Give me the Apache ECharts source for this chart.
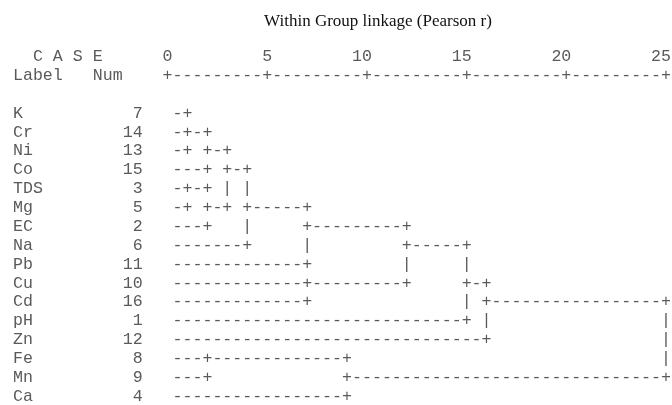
<!DOCTYPE html>
<html><head><meta charset="utf-8">
<script src="https://cdn.jsdelivr.net/npm/echarts@6/dist/echarts.min.js"></script>
<style>html,body{margin:0;padding:0;background:#fff}#c{width:672px;height:405px}</style>
</head><body><div id="c"></div>
<script>
// ---------------- data ----------------
const titleText = 'Within Group linkage (Pearson r)';
const cases    = ['K','Cr','Ni','Co','TDS','Mg','EC','Na','Pb','Cu','Cd','pH','Zn','Fe','Mn','Ca'];
const caseNums = [7,14,13,15,3,5,2,6,11,10,16,1,12,8,9,4];
// agglomeration schedule (rescaled distance 0-25): cluster containing A joins cluster containing B
const mergeA    = ['K','K','TDS','Fe','K','TDS','K','K','Cu','K','Fe','K','K','K','K'];
const mergeB    = ['Cr','Ni','Mg','Mn','Co','EC','TDS','Na','Cd','Pb','Ca','Cu','pH','Zn','Fe'];
const mergeDist = [1,1,1,2,2,2,3,4,7,7,9,12,15,16,25];
const tickValues = [0,5,10,15,20,25];
const headerCase = 'C A S E', headerLabel = 'Label', headerNum = 'Num';

// ---------------- layout / style ----------------
const W = 672, H = 405;
const CW = 9.97;                 // monospace cell width
const COL0 = 177.5;              // centre of first dendrogram column
const ROWH = 18.87;
const ROW0 = 113.3;
const gridLeft = COL0 - CW;      // distance 0
const gridRight = W - (gridLeft + 50 * CW);
const gridTop = ROW0 - ROWH / 2;
const gridH = ROWH * cases.length;
const MONO = "'Liberation Mono','Courier New',monospace";
const FS = 16.6;
const COLOR = '#5a5a5a';
const colLeft = c => COL0 + c * CW - CW / 2;

// ---------------- build dendrogram glyphs ----------------
const maxDist = tickValues[tickValues.length - 1];
const nCols = 2 * maxDist;
const cells = cases.map(() => new Array(nCols).fill(''));
const colOf = d => 2 * d - 1;
const clusters = {};
cases.forEach((c, i) => { clusters[c] = { row: i, start: null, members: [c] }; });
function drawH(cl, e) {
  const r = cl.row;
  if (cl.start === null) { for (let c = 0; c < e; c++) cells[r][c] = '-'; }
  else { cells[r][cl.start] = '+'; for (let c = cl.start + 1; c < e; c++) cells[r][c] = '-'; }
  cells[r][e] = '+';
}
mergeDist.forEach((d, k) => {
  const A = clusters[mergeA[k]], B = clusters[mergeB[k]];
  const e = colOf(d);
  drawH(A, e); drawH(B, e);
  const lo = Math.min(A.row, B.row), hi = Math.max(A.row, B.row);
  for (let r = lo + 1; r < hi; r++) if (!cells[r][e]) cells[r][e] = '|';
  const nc = { row: Math.floor((A.row + B.row) / 2), start: e, members: A.members.concat(B.members) };
  nc.members.forEach(m => { clusters[m] = nc; });
});
const glyphs = [];
cells.forEach((rowCells, r) => rowCells.forEach((ch, c) => { if (ch) glyphs.push({ d: (c + 1) / 2, row: r, ch }); }));
// ruler line (axis) above the cases
for (let c = -1; c < nCols; c++) {
  const d = (c + 1) / 2;
  glyphs.push({ d, row: -2, ch: tickValues.includes(d) ? '+' : '-' });
}

const chart = echarts.init(document.getElementById('c'), null, { renderer: 'canvas' });
chart.setOption({
  backgroundColor: '#fff',
  animation: false,
  title: {
    text: titleText, left: 373, top: 8, textAlign: 'center',
    textStyle: { fontFamily: "'Liberation Serif','Times New Roman',serif", fontSize: 17, fontWeight: 'normal', color: '#111' }
  },
  grid: { left: gridLeft, right: gridRight, top: gridTop, height: gridH, outerBoundsMode: 'none', containLabel: false },
  xAxis: {
    type: 'value', position: 'top', min: 0, max: maxDist, interval: 5,
    axisLine: { show: false }, axisTick: { show: false }, splitLine: { show: false },
    axisLabel: {
      margin: gridTop - (ROW0 - 3 * ROWH), verticalAlign: 'middle', align: 'center',
      fontFamily: MONO, fontSize: FS, color: COLOR,
      formatter: v => String(v).padStart(2, ' ') + ' '
    }
  },
  yAxis: [
    { type: 'value', min: -0.5, max: cases.length - 0.5, inverse: true, show: false },
    { type: 'category', data: cases, inverse: true, position: 'left',
      axisLine: { show: false }, axisTick: { show: false }, splitLine: { show: false },
      axisLabel: { align: 'left', margin: gridLeft - colLeft(-16), fontFamily: MONO, fontSize: FS, color: COLOR, interval: 0 } },
    { type: 'category', data: caseNums.map(String), inverse: true, position: 'left',
      axisLine: { show: false }, axisTick: { show: false }, splitLine: { show: false },
      axisLabel: { align: 'right', margin: gridLeft - (colLeft(-4) + CW), fontFamily: MONO, fontSize: FS, color: COLOR, interval: 0 } }
  ],
  graphic: [
    { type: 'text', x: colLeft(-14), y: ROW0 - 3 * ROWH, style: { text: headerCase, fontFamily: MONO, fontSize: FS, fill: COLOR, align: 'left', verticalAlign: 'middle' } },
    { type: 'text', x: colLeft(-16), y: ROW0 - 2 * ROWH, style: { text: headerLabel, fontFamily: MONO, fontSize: FS, fill: COLOR, align: 'left', verticalAlign: 'middle' } },
    { type: 'text', x: colLeft(-8), y: ROW0 - 2 * ROWH, style: { text: headerNum, fontFamily: MONO, fontSize: FS, fill: COLOR, align: 'left', verticalAlign: 'middle' } }
  ],
  series: [{
    type: 'custom', xAxisIndex: 0, yAxisIndex: 0, clip: false, silent: true,
    data: glyphs.map(g => [g.d, g.row]),
    encode: { x: 0, y: 1 },
    renderItem: (params, api) => {
      const g = glyphs[params.dataIndex];
      const p = api.coord([api.value(0), api.value(1)]);
      return { type: 'text', x: p[0], y: p[1],
        style: { text: g.ch, fill: COLOR, fontFamily: MONO, fontSize: FS, align: 'center', verticalAlign: 'middle', textAlign: 'center', textVerticalAlign: 'middle' } };
    }
  }]
});
</script></body></html>
